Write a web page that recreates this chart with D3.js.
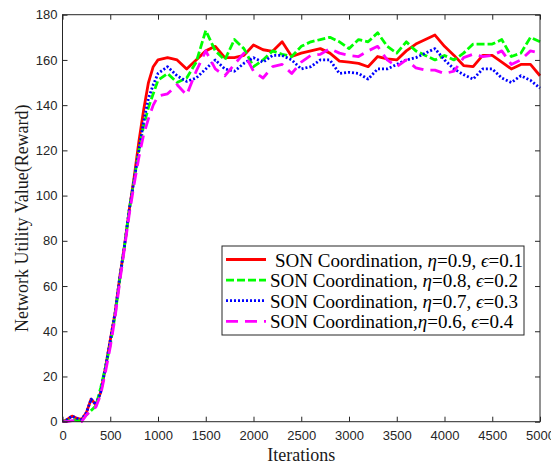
<!DOCTYPE html>
<html lang="en">
<head>
  <meta charset="UTF-8">
  <title>Network utility vs iterations</title>
  <script src="https://cdn.jsdelivr.net/npm/d3@7"></script>
  <style>
    body { margin: 0; background: #fff; }
  </style>
</head>
<body>
<script>
  // iteration points (x)
  const iters = [0, 50, 100, 150, 200, 250, 300, 350, 400, 450, 500, 550, 600, 650, 700, 750, 800, 850, 900, 950,
    1000, 1100, 1200, 1300, 1400, 1500, 1600, 1700, 1800, 1900, 2000, 2100, 2200, 2300, 2400, 2500, 2600, 2700,
    2800, 2900, 3000, 3100, 3200, 3300, 3400, 3500, 3600, 3700, 3800, 3900, 4000, 4100, 4200, 4300, 4400, 4500,
    4600, 4700, 4800, 4900, 5000]

  // eta=0.9, eps=0.1
  const red = [0, 1, 2.5, 1.5, 1, 4, 10, 7.5, 13, 24, 36, 48, 64, 78, 94, 108, 124, 138, 150, 157,
    160, 161, 160, 156, 160, 164, 166, 161, 161, 162, 166.6, 164.5, 163.8, 168, 161.5, 163, 164, 165,
    163, 159.5, 159, 158.5, 157, 161.5, 160.5, 160, 164, 167, 169, 171, 166, 162, 157.5, 157, 162, 162,
    159, 156, 158, 158, 153]
  // eta=0.8, eps=0.2
  const green = [0, 0.5, 1, 0.5, 0.5, 3, 5, 7, 15, 24, 34, 47, 63, 78, 94, 107, 120, 131, 139, 145,
    151, 154, 150, 152, 159, 173, 164, 160, 169, 165, 157, 160, 164, 162.5, 161.5, 166, 168, 169,
    170, 168, 165, 169, 168, 172, 166, 163, 168, 164, 162, 160, 162, 160, 163, 167, 167, 167,
    169, 161.5, 163, 170, 168]
  // eta=0.7, eps=0.3
  const blue = [0, 1, 2.5, 1.5, 1, 4, 10, 7.5, 13, 24, 36, 48, 64, 78, 94, 107, 120, 133, 143, 149,
    154, 157, 153, 150.5, 152, 156, 160, 156, 155, 158.5, 161, 159, 162, 162, 160, 156, 157, 160,
    160, 154, 154.5, 154, 151.5, 156, 156, 158, 160, 161, 163, 165, 160, 156, 153.5, 151.5, 156, 156,
    152, 150, 153, 151, 147.5]
  // eta=0.6, eps=0.4
  const magenta = [0, 0, 0.5, 0.5, 0, 3, 5, 6.5, 12, 22, 33, 46, 62, 77, 92, 105, 117, 127, 134, 140,
    144, 145, 149, 144.5, 155, 164, 156, 153, 158, 163, 155, 152, 157, 158, 154, 159, 162, 162.5,
    165, 163, 162, 161.5, 164, 166, 160, 157, 160, 156.5, 155.5, 155.5, 154, 155, 161, 162.5, 161.5, 162,
    164, 158, 160, 164, 163]

  const xTicks = [0, 500, 1000, 1500, 2000, 2500, 3000, 3500, 4000, 4500, 5000]
  const yTicks = [0, 20, 40, 60, 80, 100, 120, 140, 160, 180]

  const series = [
    {name: 'r', eta: '0.9', eps: '0.1', comma: ', ', values: red, color: '#ff0000', dash: null},
    {name: 'g', eta: '0.8', eps: '0.2', comma: ', ', values: green, color: '#00ff00', dash: '8,3'},
    {name: 'b', eta: '0.7', eps: '0.3', comma: ', ', values: blue, color: '#0000ff', dash: '2,2'},
    {name: 'm', eta: '0.6', eps: '0.4', comma: ',', values: magenta, color: '#ff00ff', dash: '12,7'}
  ]

  const width = 551
  const height = 464
  const margin = {top: 14.7, right: 11, bottom: 42.3, left: 62.5}
  const innerW = width - margin.left - margin.right
  const innerH = height - margin.top - margin.bottom

  const x = d3.scaleLinear().domain([0, 5000]).range([0, innerW])
  const y = d3.scaleLinear().domain([0, 180]).range([innerH, 0])

  const svg = d3.select('body').append('svg')
    .attr('width', width)
    .attr('height', height)

  const g = svg.append('g')
    .attr('transform', `translate(${margin.left},${margin.top})`)

  const axisColor = '#262626'

  // lines
  const line = d3.line()
    .x((d, i) => x(iters[i]))
    .y(d => y(d))

  g.append('g')
    .selectAll('path')
    .data(series)
    .join('path')
    .attr('fill', 'none')
    .attr('stroke', d => d.color)
    .attr('stroke-width', 2.8)
    .attr('stroke-dasharray', d => d.dash)
    .attr('stroke-linejoin', 'round')
    .attr('d', d => line(d.values))

  // axes (ticks pointing inwards)
  const styleAxis = sel => {
    sel.select('.domain').remove()
    sel.selectAll('line').attr('stroke', axisColor)
    sel.selectAll('text')
      .attr('fill', axisColor)
      .attr('font-family', '"Liberation Sans", Arial, sans-serif')
      .attr('font-size', 13)
  }

  g.append('g')
    .attr('transform', `translate(0,${innerH})`)
    .call(d3.axisBottom(x).tickValues(xTicks).tickSize(-5).tickPadding(9).tickFormat(d3.format('d')))
    .call(styleAxis)

  g.append('g')
    .call(d3.axisLeft(y).tickValues(yTicks).tickSize(-5).tickPadding(5))
    .call(styleAxis)

  g.append('g')
    .call(d3.axisTop(x).tickValues(xTicks).tickSize(-5).tickFormat(''))
    .call(styleAxis)

  g.append('g')
    .attr('transform', `translate(${innerW},0)`)
    .call(d3.axisRight(y).tickValues(yTicks).tickSize(-5).tickFormat(''))
    .call(styleAxis)

  g.append('rect')
    .attr('width', innerW)
    .attr('height', innerH)
    .attr('fill', 'none')
    .attr('stroke', axisColor)
    .attr('stroke-width', 1)

  // axis titles
  svg.append('text')
    .attr('x', margin.left + innerW / 2)
    .attr('y', 461)
    .attr('text-anchor', 'middle')
    .attr('font-family', '"Liberation Serif", "Times New Roman", serif')
    .attr('font-size', 18)
    .attr('fill', '#1a1a1a')
    .text('Iterations')

  svg.append('text')
    .attr('transform', `translate(28,${margin.top + innerH / 2}) rotate(-90)`)
    .attr('text-anchor', 'middle')
    .attr('font-family', '"Liberation Serif", "Times New Roman", serif')
    .attr('font-size', 18)
    .attr('fill', '#1a1a1a')
    .text('Network Utility Value(Reward)')

  // legend
  const legend = svg.append('g').attr('transform', 'translate(222,246)')
  legend.append('rect')
    .attr('width', 302)
    .attr('height', 89)
    .attr('fill', '#fff')
    .attr('stroke', axisColor)
    .attr('stroke-width', 1)

  const rows = legend.selectAll('g.row')
    .data(series)
    .join('g')
    .attr('class', 'row')
    .attr('transform', (d, i) => `translate(0,${13.5 + i * 20.6})`)

  rows.append('line')
    .attr('x1', 4).attr('x2', 44)
    .attr('stroke', d => d.color)
    .attr('stroke-width', 2.8)
    .attr('stroke-dasharray', d => d.dash)

  const txt = rows.append('text')
    .attr('x', (d, i) => i === 0 ? 53 : 48)
    .attr('y', 7)
    .attr('font-family', '"Liberation Serif", "Times New Roman", serif')
    .attr('font-size', 19)
    .attr('fill', '#000')
  txt.append('tspan').text(d => 'SON Coordination' + d.comma)
  txt.append('tspan').attr('font-style', 'italic').text('η')
  txt.append('tspan').text(d => '=' + d.eta + ', ')
  txt.append('tspan').attr('font-style', 'italic').text('ϵ')
  txt.append('tspan').text(d => '=' + d.eps)
</script>
</body>
</html>
